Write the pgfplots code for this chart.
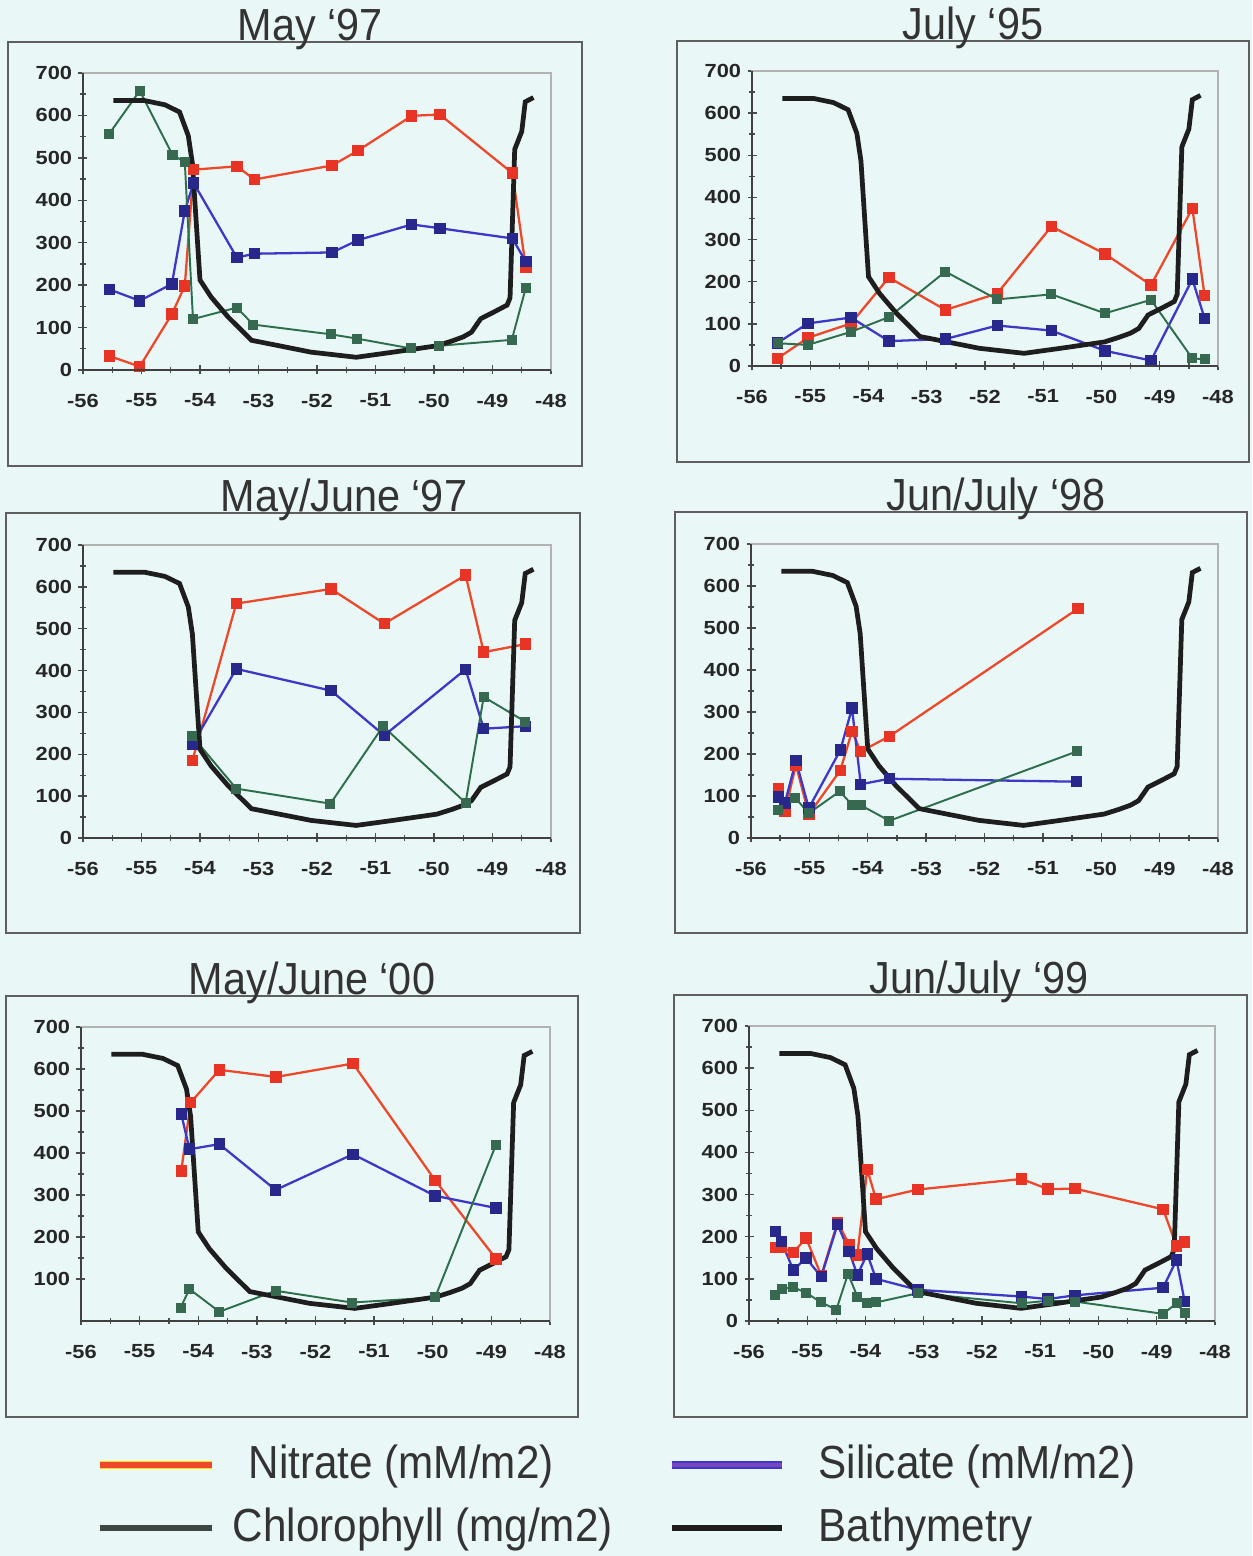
\documentclass[border=0pt]{standalone}
\usepackage{fontspec}
\setmainfont{Liberation Sans}
\usepackage{graphicx}
\usepackage{pgfplots}
\pgfplotsset{compat=1.18}
\usepackage{pgfplotstable}

\definecolor{bg}{RGB}{233,247,246}
\definecolor{nitl}{RGB}{238,72,42}
\definecolor{nitm}{RGB}{232,52,36}
\definecolor{sill}{RGB}{62,56,200}
\definecolor{silm}{RGB}{40,40,140}
\definecolor{chll}{RGB}{45,110,75}
\definecolor{chlm}{RGB}{55,105,80}
\definecolor{bath}{RGB}{30,30,30}
\definecolor{frm}{RGB}{95,95,95}
\definecolor{legsil}{RGB}{120,70,190}
\definecolor{legchl}{RGB}{60,72,64}

\pgfplotstableread{
x y
-55.48 635
-54.95 635
-54.60 625
-54.35 608
-54.20 552
-54.13 487
-54.00 212
-53.81 172
-53.52 125
-53.12 70
-52.10 42
-51.33 30
-50.70 42
-49.95 57
-49.70 68
-49.50 78
-49.36 89
-49.20 121
-48.97 137
-48.75 153
-48.70 170
-48.62 520
-48.50 562
-48.44 632
-48.30 642
}\bathy

\pgfplotsset{
  panel/.style={
    scale only axis, anchor=south west,
    xmin=-56, xmax=-48, ymin=0, ymax=700,
    xtick={-56,-55,...,-48}, ytick={0,100,...,700},
    minor x tick num=1, minor y tick num=1,
    tick align=center, tick pos=left,
    major tick length=0.09cm, minor tick length=0.06cm,
    every tick/.style={black!70, thin},
    axis line style={black!30, thin},
    /pgf/number format/assume math mode=true,
    ticklabel style={font=\bfseries\fontsize{5.4}{6}\selectfont, text=black!85},
    xticklabel={\scalebox{1.15}[1]{\pgfmathprintnumber{\tick}}},
    yticklabel={\scalebox{1.15}[1]{\pgfmathprintnumber{\tick}}},
    xticklabel style={yshift=-0.07cm},
    yticklabel style={xshift=0.06cm},
    clip=false,
    after end axis/.code={\draw[black!75, line width=0.5pt] (rel axis cs:0,1) -- (rel axis cs:0,0) -- (rel axis cs:1,0);},
  },
  nit/.style={nitl, line width=0.65pt, mark=square*, mark size=1.3pt, mark options={solid, draw=nitm, fill=nitm}},
  sil/.style={sill, line width=0.65pt, mark=square*, mark size=1.3pt, mark options={solid, draw=silm, fill=silm}},
  chl/.style={chll, line width=0.55pt, mark=square*, mark size=1.15pt, mark options={solid, draw=chlm, fill=chlm}},
  bat/.style={bath, line width=1.35pt, no marks},
}

\begin{document}
\begin{tikzpicture}
\fill[bg] (0,0) rectangle (12.52,15.56);
\useasboundingbox (0,0) rectangle (12.52,15.56);

% frames
\draw[frm, line width=0.6pt] (0.08,10.90) rectangle (5.82,15.14);
\draw[frm, line width=0.6pt] (6.77,10.94) rectangle (12.49,15.15);
\draw[frm, line width=0.6pt] (0.06,6.23) rectangle (5.80,10.43);
\draw[frm, line width=0.6pt] (6.75,6.23) rectangle (12.47,10.44);
\draw[frm, line width=0.6pt] (0.06,1.39) rectangle (5.78,5.60);
\draw[frm, line width=0.6pt] (6.74,1.39) rectangle (12.47,5.61);

% Panel 1: May '97
\begin{axis}[panel, at={(0.83cm,11.86cm)}, width=4.68cm, height=2.97cm]
\addplot[nit] coordinates {(-55.55,33) (-55.03,8) (-54.48,132) (-54.26,198) (-54.11,472) (-53.37,480) (-53.07,449) (-51.74,482) (-51.30,517) (-50.38,599) (-49.90,602) (-48.66,464) (-48.43,241)};
\addplot[sil] coordinates {(-55.55,190) (-55.03,163) (-54.48,203) (-54.26,375) (-54.11,441) (-53.37,265) (-53.07,274) (-51.74,277) (-51.30,306) (-50.38,343) (-49.90,334) (-48.66,310) (-48.43,255)};
\addplot[chl] coordinates {(-55.55,557) (-55.03,658) (-54.47,507) (-54.26,490) (-54.12,120) (-53.37,147) (-53.09,107) (-51.76,84) (-51.32,74) (-50.40,51) (-49.92,57) (-48.67,71) (-48.43,194)};
\addplot[bat] table {\bathy};
\end{axis}

% Panel 2: July '95
\begin{axis}[panel, at={(7.52cm,11.90cm)}, width=4.66cm, height=2.95cm]
\addplot[nit] coordinates {(-55.56,18) (-55.04,67) (-54.30,101) (-53.65,210) (-52.68,133) (-51.79,172) (-50.86,331) (-49.94,266) (-49.15,192) (-48.44,374) (-48.23,167)};
\addplot[sil] coordinates {(-55.56,55) (-55.04,101) (-54.30,115) (-53.65,59) (-52.68,64) (-51.79,96) (-50.86,84) (-49.94,36) (-49.15,13) (-48.44,206) (-48.23,113)};
\addplot[chl] coordinates {(-55.56,54) (-55.04,50) (-54.30,81) (-53.65,116) (-52.68,224) (-51.79,158) (-50.86,170) (-49.94,125) (-49.15,157) (-48.44,18) (-48.23,16)};
\addplot[bat] table {\bathy};
\end{axis}

% Panel 3: May/June '97
\begin{axis}[panel, at={(0.83cm,7.18cm)}, width=4.68cm, height=2.93cm]
\addplot[nit] coordinates {(-54.13,185) (-53.38,560) (-51.76,595) (-50.85,512) (-49.46,628) (-49.15,444) (-48.44,463)};
\addplot[sil] coordinates {(-54.13,223) (-53.38,404) (-51.76,352) (-50.85,245) (-49.46,403) (-49.15,261) (-48.44,267)};
\addplot[chl] coordinates {(-54.13,243) (-53.38,118) (-51.77,82) (-50.87,267) (-49.46,84) (-49.15,337) (-48.44,278)};
\addplot[bat] table {\bathy};
\end{axis}

% Panel 4: Jun/July '98
\begin{axis}[panel, at={(7.51cm,7.18cm)}, width=4.67cm, height=2.94cm]
\addplot[nit] coordinates {(-55.53,117) (-55.42,63) (-55.23,174) (-55.01,56) (-54.47,161) (-54.27,254) (-54.12,206) (-53.63,242) (-50.40,546)};
\addplot[sil] coordinates {(-55.53,98) (-55.42,83) (-55.23,184) (-55.01,71) (-54.47,209) (-54.27,309) (-54.12,128) (-53.63,141) (-50.42,134)};
\addplot[chl] coordinates {(-55.53,67) (-55.24,95) (-55.01,59) (-54.48,111) (-54.27,79) (-54.12,78) (-53.63,41) (-50.42,206)};
\addplot[bat] table {\bathy};
\end{axis}

% Panel 5: May/June '00
\begin{axis}[panel, at={(0.81cm,2.35cm)}, width=4.69cm, height=2.94cm, ytick={100,200,...,700}]
\addplot[nit] coordinates {(-54.29,357) (-54.13,520) (-53.64,598) (-52.67,581) (-51.36,613) (-49.96,335) (-48.92,148)};
\addplot[sil] coordinates {(-54.29,493) (-54.15,409) (-53.64,421) (-52.68,312) (-51.36,397) (-49.96,298) (-48.92,269)};
\addplot[chl] coordinates {(-54.30,32) (-54.15,76) (-53.64,22) (-52.68,72) (-51.38,44) (-49.96,56) (-48.92,420)};
\addplot[bat] table {\bathy};
\end{axis}

% Panel 6: Jun/July '99
\begin{axis}[panel, at={(7.49cm,2.35cm)}, width=4.66cm, height=2.95cm]
\addplot[nit] coordinates {(-55.55,175) (-55.45,175) (-55.24,162) (-55.02,197) (-54.76,108) (-54.48,234) (-54.28,182) (-54.14,157) (-53.97,360) (-53.82,289) (-53.10,312) (-51.32,337) (-50.87,313) (-50.40,314) (-48.89,265) (-48.66,178) (-48.52,187)};
\addplot[sil] coordinates {(-55.55,212) (-55.44,188) (-55.24,121) (-55.02,149) (-54.76,105) (-54.48,229) (-54.28,165) (-54.14,109) (-53.97,159) (-53.82,100) (-53.10,74) (-51.32,58) (-50.87,52) (-50.40,61) (-48.89,79) (-48.66,145) (-48.52,46)};
\addplot[chl] coordinates {(-55.55,62) (-55.44,76) (-55.24,80) (-55.02,67) (-54.76,44) (-54.50,27) (-54.30,112) (-54.14,58) (-53.97,42) (-53.82,44) (-53.10,66) (-51.32,42) (-50.87,48) (-50.40,46) (-48.89,17) (-48.66,42) (-48.52,18)};
\addplot[bat] table {\bathy};
\end{axis}

% titles
\begin{scope}[every node/.style={anchor=base, inner sep=0pt, text=black!80, font=\fontsize{12.8}{14}\selectfont}]
\node at (3.10,15.15) {\scalebox{0.92}[1]{May ‘97}};
\node at (9.73,15.16) {\scalebox{0.92}[1]{July ‘95}};
\node at (3.44,10.44) {\scalebox{0.92}[1]{May/June ‘97}};
\node at (9.96,10.45) {\scalebox{0.92}[1]{Jun/July ‘98}};
\node at (3.12,5.61) {\scalebox{0.92}[1]{May/June ‘00}};
\node at (9.79,5.62) {\scalebox{0.92}[1]{Jun/July ‘99}};
\end{scope}

% legend
\draw[yellow!80!orange, line width=2.2pt] (1.00,0.91) -- (2.12,0.91);
\draw[nitl, line width=1.5pt] (1.00,0.91) -- (2.12,0.91);
\draw[sill, line width=2.2pt] (6.72,0.91) -- (7.82,0.91);
\draw[legsil, line width=1.4pt] (6.72,0.91) -- (7.82,0.91);
\draw[legchl, line width=1.9pt] (1.00,0.28) -- (2.12,0.28);
\draw[bath, line width=1.9pt] (6.72,0.28) -- (7.82,0.28);
\begin{scope}[every node/.style={anchor=west, inner sep=0pt, text=black!80, font=\fontsize{13.2}{15}\selectfont}]
\node at (2.48,0.90) {\scalebox{0.91}[1]{Nitrate (mM/m2)}};
\node at (8.18,0.90) {\scalebox{0.91}[1]{Silicate (mM/m2)}};
\node at (2.32,0.26) {\scalebox{0.91}[1]{Chlorophyll (mg/m2)}};
\node at (8.18,0.26) {\scalebox{0.91}[1]{Bathymetry}};
\end{scope}
\end{tikzpicture}
\end{document}
